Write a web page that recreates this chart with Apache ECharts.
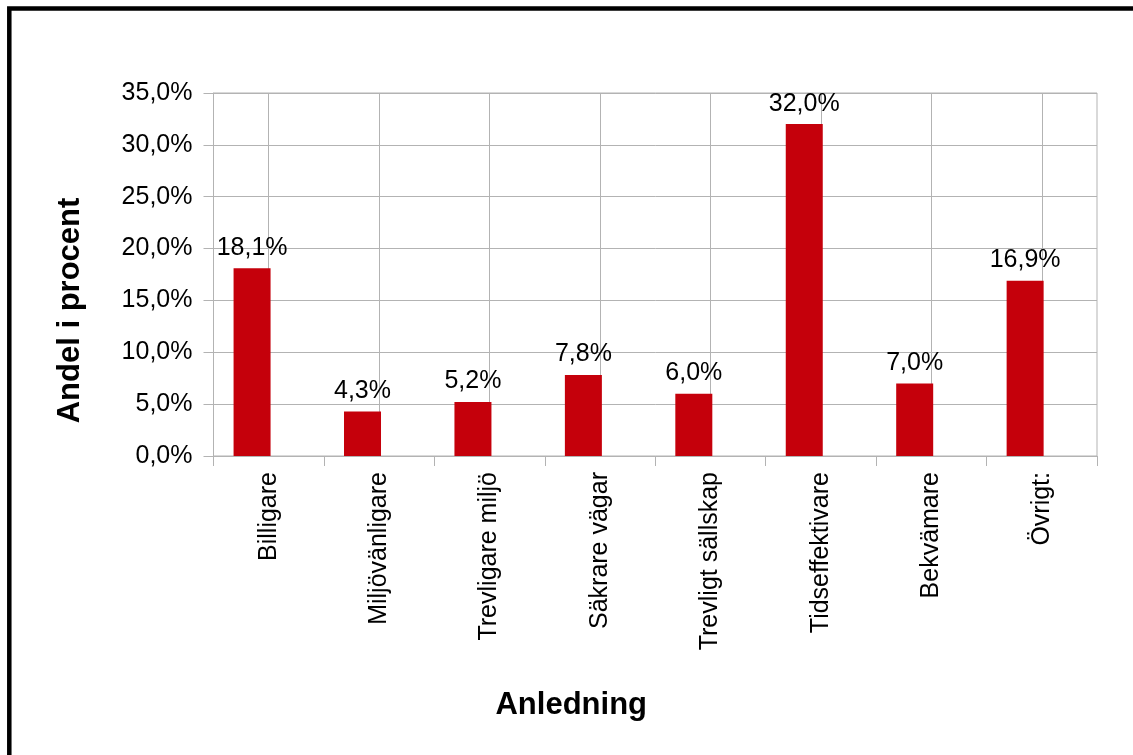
<!DOCTYPE html>
<html>
<head>
<meta charset="utf-8">
<script src="https://cdn.jsdelivr.net/npm/echarts@6/dist/echarts.min.js"></script>
<style>
  html, body { margin: 0; padding: 0; background: #fff; }
  #chart { width: 1133px; height: 755px; }
</style>
</head>
<body>
<div id="chart"></div>
<script>
// Skäl till val av färdsätt – andel i procent
const categories = ['Billigare', 'Miljövänligare', 'Trevligare miljö', 'Säkrare vägar',
                    'Trevligt sällskap', 'Tidseffektivare', 'Bekvämare', 'Övrigt:'];
const shares = [18.1, 4.3, 5.2, 7.8, 6.0, 32.0, 7.0, 16.9];
const yTicks = [0, 5, 10, 15, 20, 25, 30, 35];

const FONT = 'Liberation Sans, Arial, sans-serif';
const GRID_GRAY = '#b3b3b3';
const BAR_RED = '#c5000b';

const pct = v => Number(v).toFixed(1).replace('.', ',') + '%';

const chart = echarts.init(document.getElementById('chart'), null, { renderer: 'canvas' });

chart.setOption({
  animation: false,
  backgroundColor: '#fff',
  textStyle: { fontFamily: FONT },
  graphic: [{
    // heavy black frame around the chart
    type: 'rect',
    shape: { x: 9.3, y: 8.5, width: 1200, height: 800 },
    style: { fill: null, stroke: '#000', lineWidth: 4.5 },
    silent: true
  }],
  grid: {
    left: 213.5, right: 36, top: 93, bottom: 299,
    show: true, borderColor: GRID_GRAY, borderWidth: 1, backgroundColor: 'transparent'
  },
  xAxis: [{
    type: 'category',
    data: categories,
    boundaryGap: true,
    name: 'Anledning',
    nameLocation: 'middle',
    nameGap: 234,
    nameTextStyle: { fontFamily: FONT, fontSize: 31, fontWeight: 'bold', color: '#000', padding: [0, 168, 0, 0] },
    axisLine: { show: true, lineStyle: { color: GRID_GRAY, width: 1 } },
    axisTick: { show: true, interval: 0, length: 10, inside: false, lineStyle: { color: GRID_GRAY } },
    axisLabel: { interval: 0, rotate: 90, margin: 16, fontFamily: FONT, fontSize: 25, color: '#000' },
    splitLine: { show: false }
  }, {
    // vertical gridlines through the category centres
    type: 'category',
    data: categories,
    position: 'bottom',
    boundaryGap: true,
    axisLine: { show: false },
    axisTick: { show: false, alignWithLabel: true },
    axisLabel: { show: false },
    splitLine: { show: true, interval: 0, alignWithLabel: true, lineStyle: { color: GRID_GRAY, width: 1 } }
  }],
  yAxis: {
    type: 'value',
    min: yTicks[0],
    max: yTicks[yTicks.length - 1],
    interval: yTicks[1] - yTicks[0],
    name: 'Andel i procent',
    nameLocation: 'middle',
    nameGap: 128,
    nameTextStyle: { fontFamily: FONT, fontSize: 31, fontWeight: 'bold', color: '#000', padding: [0, 72, 0, 0] },
    axisLine: { show: true, lineStyle: { color: GRID_GRAY, width: 1 } },
    axisTick: { show: true, length: 10, inside: false, lineStyle: { color: GRID_GRAY } },
    axisLabel: { margin: 21, fontFamily: FONT, fontSize: 25, color: '#000', formatter: pct },
    splitLine: { show: true, lineStyle: { color: GRID_GRAY, width: 1 } }
  },
  series: [{
    name: 'Andel',
    type: 'bar',
    xAxisIndex: 0,
    data: shares,
    barWidth: 37,
    barGap: '-10%',
    itemStyle: { color: BAR_RED },
    label: {
      show: true, position: 'top', distance: 8,
      fontFamily: FONT, fontSize: 25, color: '#000',
      formatter: p => pct(p.value)
    },
    z: 3
  }, {
    // empty companion slot: places each bar just left of its category centre
    name: 'tom',
    type: 'bar',
    xAxisIndex: 0,
    data: categories.map(() => '-'),
    barWidth: 37,
    barGap: '-10%',
    silent: true
  }]
});
</script>
</body>
</html>
